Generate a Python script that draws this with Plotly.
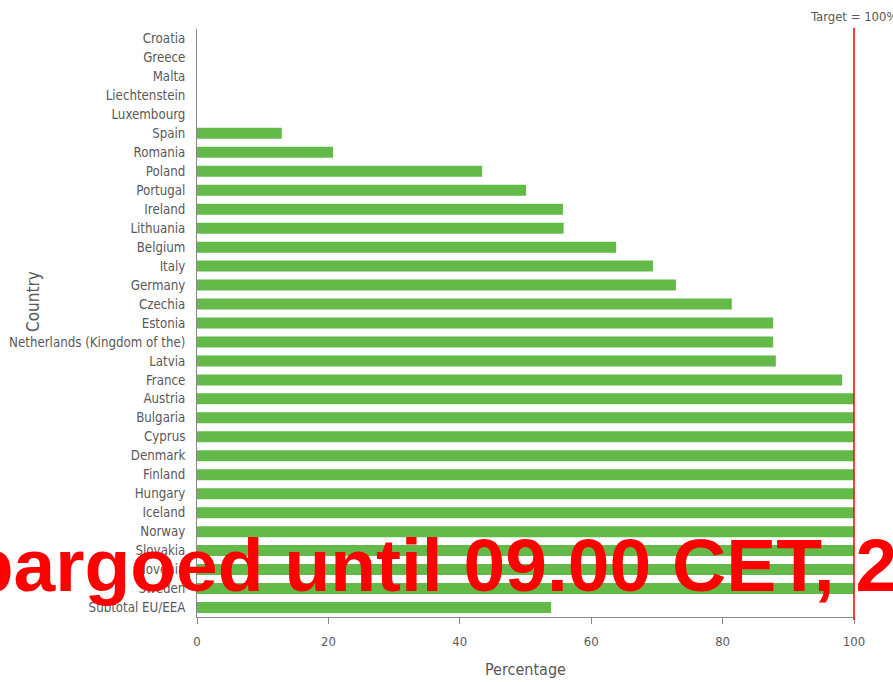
import plotly.graph_objects as go

countries = ["Croatia", "Greece", "Malta", "Liechtenstein", "Luxembourg", "Spain", "Romania",
             "Poland", "Portugal", "Ireland", "Lithuania", "Belgium", "Italy", "Germany",
             "Czechia", "Estonia", "Netherlands (Kingdom of the)", "Latvia", "France",
             "Austria", "Bulgaria", "Cyprus", "Denmark", "Finland", "Hungary", "Iceland",
             "Norway", "Slovakia", "Slovenia", "Sweden", "Subtotal EU/EEA"]
percentage = [0, 0, 0, 0, 0, 12.9, 20.7,
              43.4, 50.1, 55.7, 55.8, 63.8, 69.4, 72.9,
              81.4, 87.7, 87.7, 88.1, 98.2,
              100, 100, 100, 100, 100, 100, 100,
              100, 100, 100, 100, 53.9]
x_ticks = [0, 20, 40, 60, 80, 100]
target = 100
watermark = "Embargoed until 09.00 CET, 2"

FONT = "DejaVu Sans Condensed, sans-serif"
GREY = "#595959"

fig = go.Figure()
fig.add_trace(go.Bar(
    x=percentage, y=countries, orientation="h",
    marker=dict(color="#63BA48", line=dict(width=0)),
    hoverinfo="x+y",
))

fig.add_shape(type="line", xref="paper", yref="paper", x0=1, x1=1, y0=-0.005, y1=1.002,
              line=dict(color="#ff0000", width=1.5), layer="above")
fig.add_annotation(xref="paper", yref="paper", x=1, y=1, yanchor="bottom", xanchor="center",
                   yshift=3, text="Target = 100%", showarrow=False,
                   font=dict(family=FONT, size=13, color=GREY))
fig.add_annotation(xref="paper", yref="paper", x=-0.25, y=0.537, xanchor="center", yanchor="middle",
                   text="Country", textangle=-90, showarrow=False,
                   font=dict(family=FONT, size=17, color=GREY))
fig.add_annotation(xref="paper", yref="paper", x=0.5, y=-0.09, xanchor="center", yanchor="middle",
                   text="Percentage", showarrow=False,
                   font=dict(family=FONT, size=16, color=GREY))
fig.add_annotation(xref="paper", yref="paper", x=-0.5296, y=0.088, xanchor="left", yanchor="middle",
                   text=watermark, showarrow=False,
                   font=dict(family="Liberation Sans, Arial, sans-serif", size=75, color="#ff0000",
                             weight="bold"))

fig.update_layout(
    width=893, height=682,
    margin=dict(l=197, r=39, t=29, b=65),
    paper_bgcolor="white", plot_bgcolor="white",
    bargap=0.42,
    showlegend=False,
    font=dict(family=FONT, size=13, color=GREY),
    xaxis=dict(range=[0, 100], tickvals=x_ticks, showgrid=False, zeroline=False,
               showline=True, linecolor="#888888", linewidth=1,
               ticks="outside", ticklen=6, tickcolor="#888888",
               ticklabelstandoff=6, automargin=False,
               tickfont=dict(size=13, color=GREY)),
    yaxis=dict(autorange="reversed", showgrid=False, zeroline=False,
               showline=True, linecolor="#888888", linewidth=1,
               ticks="", ticklabelstandoff=8, automargin=False,
               tickfont=dict(size=13.2, color=GREY)),
)

fig.write_html("out.html", config={"displayModeBar": False},
               post_script="document.body.style.margin='0';document.body.style.overflow='hidden';")
